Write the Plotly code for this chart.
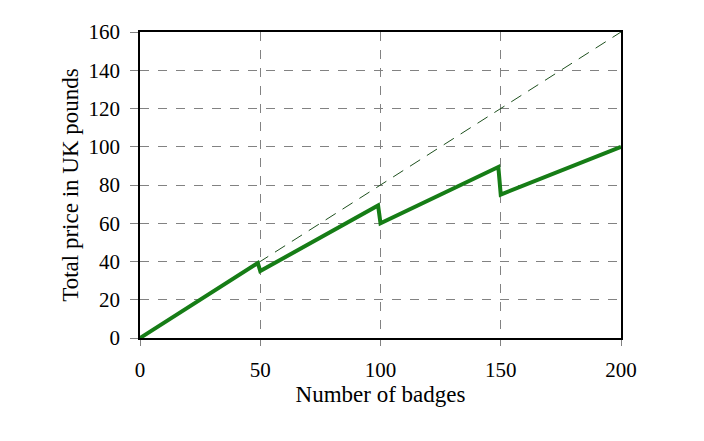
import plotly.graph_objects as go

# Data
badges = [0, 49, 50, 99, 100, 149, 150, 200]
total_price = [0, 39.2, 35, 69.3, 60, 89.4, 75, 100]
ref_x = [0, 200]
ref_y = [0, 160]
x_ticks = [0, 50, 100, 150, 200]
y_ticks = [0, 20, 40, 60, 80, 100, 120, 140, 160]

font_family = "Liberation Serif, Times New Roman, serif"

fig = go.Figure()
fig.add_trace(go.Scatter(x=ref_x, y=ref_y, mode="lines",
                         line=dict(color="rgb(30,80,30)", width=1, dash="12px,8px"),
                         showlegend=False))
fig.add_trace(go.Scatter(x=badges, y=total_price, mode="lines",
                         line=dict(color="rgb(22,125,22)", width=4),
                         showlegend=False))

axis_common = dict(
    showline=True, linecolor="black", linewidth=1.5, mirror=True,
    showgrid=True, gridcolor="rgb(130,130,130)", gridwidth=1, griddash="dash",
    ticks="outside", tickcolor="rgb(130,130,130)", tickwidth=1,
    zeroline=False,
    tickfont=dict(family=font_family, size=21, color="black"),
    title_font=dict(family=font_family, size=23, color="black"),
)

fig.update_xaxes(range=[0, 200], tickvals=x_ticks, ticklen=6, ticklabelstandoff=6,
                 title_text="Number of badges", title_standoff=4, **axis_common)
fig.update_yaxes(range=[0, 160], tickvals=y_ticks, ticklen=8, ticklabelstandoff=6,
                 title_text="Total price in UK pounds", title_standoff=3, **axis_common)

fig.update_layout(
    width=704, height=441,
    margin=dict(l=140, r=83, t=32, b=103),
    paper_bgcolor="white", plot_bgcolor="white",
    font=dict(family=font_family, color="black"),
)

fig.write_html("out.html")
